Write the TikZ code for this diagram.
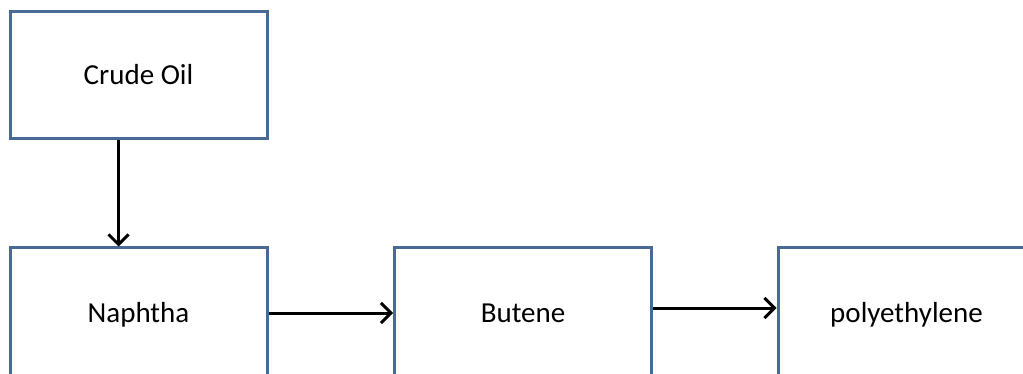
\documentclass[tikz,border=0pt]{standalone}
\usepackage{fontspec}
\setmainfont{Carlito}
\usetikzlibrary{arrows.meta}
\definecolor{boxblue}{RGB}{74,106,150}
\begin{document}
\begin{tikzpicture}[x=1pt,y=-1pt,
  procbox/.style={draw=boxblue, line width=3pt, fill=white, minimum width=257pt,
    inner sep=0pt, text height=19pt, text depth=0pt, font=\fontsize{29}{34}\selectfont},
  flow/.style={line width=3pt, -{Straight Barb[length=10pt,width=20pt,line width=3pt]}}]
  \useasboundingbox (0,0) rectangle (1023,374);
  \clip (0,0) rectangle (1023,374);
  \fill[white] (0,0) rectangle (1023,374);
  \node[procbox, minimum height=127pt] (crude) at (138.5,75.5) {Crude Oil};
  \node[procbox, minimum height=130pt] (naphtha) at (138.5,313) {Naphtha};
  \node[procbox, minimum height=130pt] (butene) at (523,313) {Butene};
  \node[procbox, minimum height=130pt] (poly) at (906.5,313) {polyethylene};
  \draw[flow] ([xshift=-20pt]crude.south) -- ([xshift=-20pt]naphtha.north);
  \draw[flow] (naphtha.east) -- (butene.west);
  \draw[flow] ([yshift=5pt]butene.east) -- ([yshift=5pt]poly.west);
\end{tikzpicture}
\end{document}
